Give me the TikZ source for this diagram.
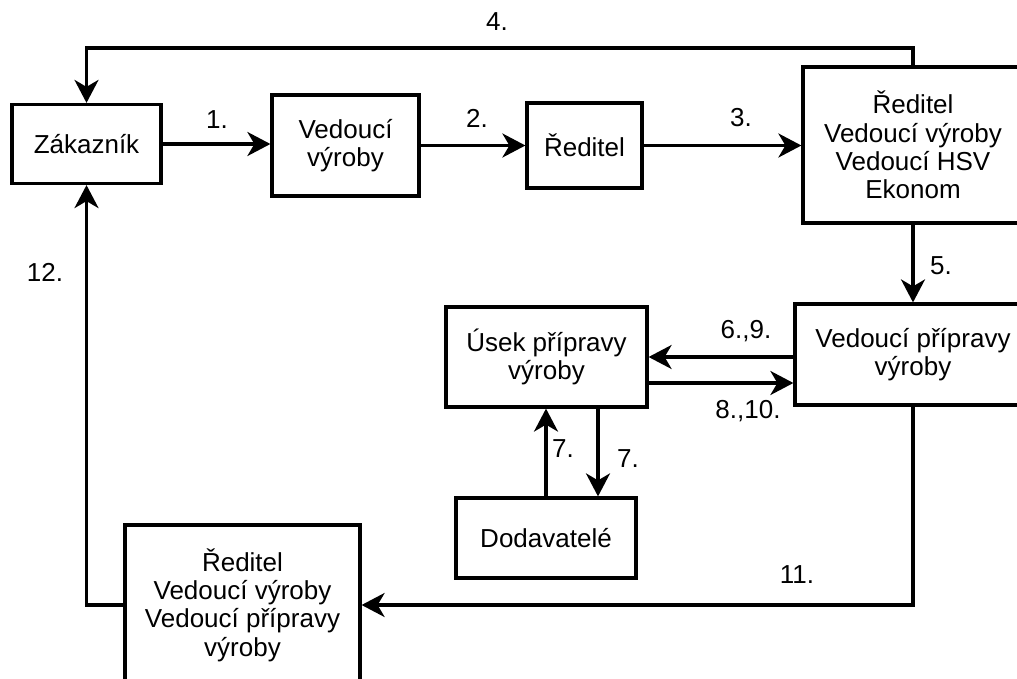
\documentclass[tikz,border=0pt]{standalone}
\usepackage{fontspec}
\setmainfont{Liberation Sans}
\usetikzlibrary{arrows.meta}
\begin{document}
\begin{tikzpicture}[x=1pt,y=-1pt,
  box/.style={draw=black,line width=3.2pt,fill=white,align=center,inner sep=0pt,
    font=\fontsize{26}{28.3}\selectfont},
  lbl/.style={font=\fontsize{26}{28.3}\selectfont,inner sep=0pt},
  arr/.style={line width=3.2pt,-{Stealth[length=23pt,width=24pt,inset=7pt]}},
  ln/.style={line width=3.2pt}]
\useasboundingbox (0,0) rectangle (1017,679);
\clip (0,0) rectangle (1017,679);
\fill[white] (0,0) rectangle (1017,679);
% boxes
\node[box,minimum width=149pt,minimum height=79pt] (zak) at (86.5,144) {Zákazník};
\node[box,minimum width=147pt,minimum height=101pt] (vv) at (345.5,145.5) {Vedoucí\\výroby};
\node[box,minimum width=115pt,minimum height=85pt] (red) at (584.5,145.5) {Ředitel};
\node[box,minimum width=220pt,minimum height=156pt] (big) at (913,145) {Ředitel\\Vedoucí výroby\\Vedoucí HSV\\Ekonom};
\node[box,minimum width=236pt,minimum height=101pt] (vp) at (913,354.5) {Vedoucí přípravy\\výroby};
\node[box,minimum width=201pt,minimum height=100pt] (usek) at (546.5,357) {Úsek přípravy\\výroby};
\node[box,minimum width=180pt,minimum height=80pt] (dod) at (546,538) {Dodavatelé};
\node[box,minimum width=235pt,minimum height=160pt] (bot) at (242.5,605) {Ředitel\\Vedoucí výroby\\Vedoucí přípravy\\výroby};
% connectors
\coordinate (c4) at (500,48);
\draw[arr] (zak.east) -- (zak.east -| vv.west);
\draw[arr] (vv.east) -- (vv.east -| red.west);
\draw[arr] (red.east) -- (red.east -| big.west);
\draw[arr] (big.north) |- (c4) -| (zak.north);
\draw[arr] (big.south) -- (big.south |- vp.north);
\draw[arr] (usek.east -| vp.west) -- (usek.east);
\draw[arr] ([yshift=-26pt]usek.east) -- ([yshift=-26pt]usek.east -| vp.west);
\draw[arr] (dod.north) -- (dod.north |- usek.south);
\draw[arr] ([xshift=51.5pt]usek.south) -- ([xshift=51.5pt]usek.south |- dod.north);
\draw[arr] (vp.south) |- (bot.east);
\draw[arr] (bot.west) -| (zak.south);
% labels
\node[lbl] (l1) at (217,120) {1.};
\node[lbl] (l2) at (477,118) {2.};
\node[lbl] (l3) at (741,118) {3.};
\node[lbl] (l4) at (497,22) {4.};
\node[lbl] (l5) at (941,266) {5.};
\node[lbl] (l69) at (746,331) {6.,9.};
\node[lbl] (l810) at (748,411) {8.,10.};
\node[lbl] (l7a) at (563,449) {7.};
\node[lbl] (l7b) at (628,459) {7.};
\node[lbl] (l11) at (797,575) {11.};
\node[lbl] (l12) at (45,272) {12.};
\end{tikzpicture}
\end{document}
